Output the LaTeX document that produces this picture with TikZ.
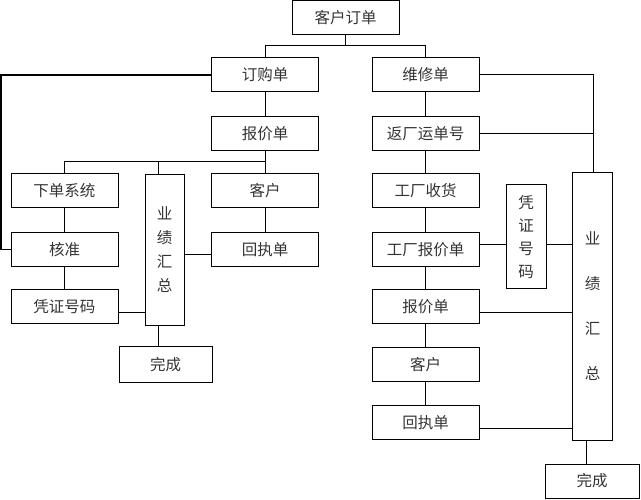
\documentclass[tikz,border=0pt]{standalone}
\usepackage{fontspec}
\newfontfamily\cjk{Noto Sans CJK SC}
\begin{document}
\begin{tikzpicture}[x=1pt,y=-1pt,
  every path/.style={line width=1pt},
  box/.style={draw, line width=1pt, minimum width=107pt, minimum height=34pt, inner sep=0pt,
    font=\cjk\fontsize{15.5}{18}\selectfont, text=black!80},
  vbox/.style={draw, line width=1pt, inner sep=0pt, align=center, text=black!80}]
\useasboundingbox (0,0) rectangle (641,500);
% nodes
\node[box] (top) at (345.5,18) {客户订单};
\node[box] (dg) at (265,75) {订购单};
\node[box] (wx) at (425.5,75) {维修单};
\node[box] (bjL) at (265,134) {报价单};
\node[box] (fc) at (425.5,134) {返厂运单号};
\node[box] (xd) at (64.5,190.5) {下单系统};
\node[box] (khL) at (265,190.5) {客户};
\node[box] (hz) at (64.5,249.5) {核准};
\node[box] (hzdL) at (265,249.5) {回执单};
\node[box] (pzL) at (64.5,306.5) {凭证号码};
\node[vbox, minimum width=39pt, minimum height=151pt, font=\cjk\fontsize{15.5}{24}\selectfont] (yjL) at (164.5,250) {业\\绩\\汇\\总};
\node[box, minimum width=93pt, minimum height=35pt] (wcL) at (165.5,364.5) {完成};
\node[box] (gcsh) at (425.5,190.5) {工厂收货};
\node[box] (gcbj) at (425.5,249.5) {工厂报价单};
\node[vbox, minimum width=40pt, minimum height=104pt, font=\cjk\fontsize{15.5}{23}\selectfont] (pzR) at (526,237) {凭\\证\\号\\码};
\node[vbox, minimum width=40pt, minimum height=267pt, font=\cjk\fontsize{15.5}{45}\selectfont] (yjR) at (592.5,306.5) {业\\绩\\汇\\总};
\node[box] (bjR) at (425.5,306.5) {报价单};
\node[box] (khR) at (425.5,364.5) {客户};
\node[box] (hzdR) at (425.5,422.5) {回执单};
\node[box, minimum width=94pt] (wcR) at (592,481) {完成};
% junction coordinates
\coordinate (j1) at (345.5,46);
\coordinate (j2) at (265,162);
\coordinate (j3) at (158,162);
\coordinate (cL) at (1,75);
\coordinate (cR) at (593,75);
% connectors
\draw (top) -- (j1) -| (dg);
\draw (j1) -| (wx);
\draw (dg) -- (bjL);
\draw (wx) -- (fc);
\draw (fc) -- (gcsh);
\draw (gcsh) -- (gcbj);
\draw (gcbj) -- (bjR);
\draw (bjR) -- (khR);
\draw (khR) -- (hzdR);
\draw (bjL) -- (j2) -| (xd);
\draw (j3) -- (j3 |- yjL.north);
\draw (j2) -- (khL);
\draw (xd) -- (hz);
\draw (hz) -- (pzL);
\draw (khL) -- (hzdL);
\draw[line width=1.4pt] (dg.west) -- (cL) |- (hz.west);
\draw (hzdL.west |- 0,255) -- (yjL.east |- 0,255);
\draw (pzL.east |- 0,313) -- (yjL.west |- 0,313);
\draw (yjL.south -| j3) -- (wcL.north -| j3);
\draw (wx.east) -- (cR) -- (cR |- yjR.north);
\draw (fc.east) -- (fc.east -| cR);
\draw (gcbj.east |- 0,245) -- (pzR.west |- 0,245);
\draw (pzR.east |- 0,245) -- (yjR.west |- 0,245);
\draw (bjR.east |- 0,313) -- (yjR.west |- 0,313);
\draw (hzdR.east |- 0,428) -- (yjR.west |- 0,428);
\draw (yjR.south -| 586,0) -- (wcR.north -| 586,0);
\end{tikzpicture}
\end{document}
